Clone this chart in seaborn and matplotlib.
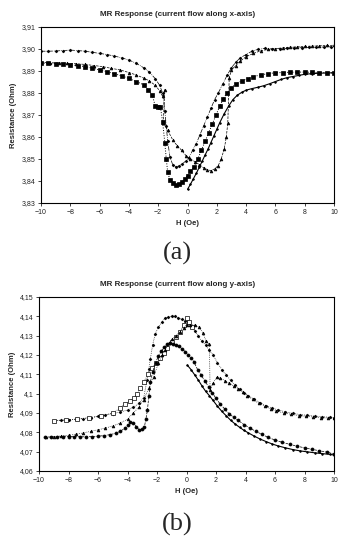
import numpy as np
import pandas as pd
import matplotlib
matplotlib.use("Agg")
import matplotlib.pyplot as plt
from matplotlib.ticker import FuncFormatter, MultipleLocator
import seaborn as sns

# ---- panel (a): current flow along x-axis ----
a_diam_h = [-10, -9.5, -9, -8.5, -8, -7.5, -7, -6.5, -6, -5.5, -5, -4.5, -4, -3.5, -3, -2.6, -2.2, -1.9,
            -1.7, -1.55, -1.45, -1.35, -1.2, -1.0, -0.8, -0.6, -0.35, -0.1, 0.1, 0.35, 0.6, 0.85, 1.1, 1.35,
            1.6, 1.85, 2.1, 2.4, 2.7, 3.0, 3.3, 3.6, 4.0, 4.4, 4.8, 5.3, 5.8, 6.3, 6.8, 7.3, 7.8, 8.3, 8.8,
            9.3, 9.8]
a_diam_r = [3.8990, 3.8990, 3.8991, 3.8993, 3.8995, 3.8993, 3.8990, 3.8985, 3.8980, 3.8975, 3.8968, 3.8960,
            3.8950, 3.8935, 3.8915, 3.8895, 3.8865, 3.8835, 3.8800, 3.8720, 3.8650, 3.8580, 3.8510, 3.8472,
            3.8465, 3.8468, 3.8478, 3.8492, 3.8505, 3.8540, 3.8570, 3.8610, 3.8650, 3.8690, 3.8730, 3.8770,
            3.8800, 3.8840, 3.8880, 3.8915, 3.8940, 3.8960, 3.8975, 3.8990, 3.8998, 3.9003, 3.9000, 3.9002,
            3.9003, 3.9005, 3.9006, 3.9007, 3.9008, 3.9009, 3.9010]

a_tri_h = [-10, -9.4, -8.8, -8.2, -7.6, -7.0, -6.4, -5.8, -5.2, -4.6, -4.0, -3.5, -3.0, -2.6, -2.2, -1.9,
           -1.7, -1.55, -1.65, -1.35, -1.0, -0.7, -0.4, -0.1, 0.2, 0.5, 0.8, 1.1, 1.35, 1.6, 1.85, 2.1, 2.3,
           2.5, 2.65, 2.75, 2.85, 3.0, 3.3, 3.6, 4.0, 4.5, 5.0, 5.5, 6.0, 6.5, 7.0, 7.5, 8.0, 8.5, 9.0, 9.5, 10.0]
a_tri_r = [3.8940, 3.8938, 3.8936, 3.8935, 3.8933, 3.8930, 3.8925, 3.8920, 3.8912, 3.8905, 3.8893, 3.8882,
           3.8868, 3.8855, 3.8835, 3.8810, 3.8785, 3.8815, 3.8665, 3.8630, 3.8586, 3.8560, 3.8540, 3.8515,
           3.8500, 3.8488, 3.8475, 3.8460, 3.8452, 3.8447, 3.8455, 3.8470, 3.8500, 3.8544, 3.8600, 3.8665,
           3.8870, 3.8905, 3.8925, 3.8945, 3.8965, 3.8980, 3.8992, 3.8998, 3.9002, 3.9005, 3.9008, 3.9010,
           3.9012, 3.9013, 3.9015, 3.9016, 3.9017]

a_sq_h = [-10, -9.5, -9, -8.5, -8, -7.5, -7, -6.5, -6, -5.5, -5, -4.5, -4, -3.5, -3, -2.7, -2.4, -2.2, -2.0,
          -1.85, -1.7, -1.55, -1.45, -1.35, -1.2, -1.0, -0.8, -0.6, -0.4, -0.2, 0.0, 0.2, 0.45, 0.7, 0.95,
          1.2, 1.45, 1.7, 1.95, 2.2, 2.45, 2.7, 3.0, 3.3, 3.7, 4.1, 4.5, 5.0, 5.5, 6.0, 6.5, 7.0, 7.5, 8.0,
          8.5, 9.0, 9.5, 10.0]
a_sq_r = [3.8935, 3.8935, 3.8933, 3.8930, 3.8928, 3.8925, 3.8920, 3.8913, 3.8905, 3.8897, 3.8888, 3.8878,
          3.8866, 3.8852, 3.8838, 3.8815, 3.8790, 3.8740, 3.8735, 3.8738, 3.8670, 3.8575, 3.8500, 3.8440,
          3.8405, 3.8390, 3.8380, 3.8385, 3.8395, 3.8410, 3.8425, 3.8445, 3.8465, 3.8500, 3.8540, 3.8580,
          3.8620, 3.8660, 3.8700, 3.8740, 3.8775, 3.8800, 3.8825, 3.8840, 3.8855, 3.8865, 3.8875, 3.8882,
          3.8888, 3.8892, 3.8893, 3.8894, 3.8895, 3.8895, 3.8894, 3.8893, 3.8892, 3.8891]

a_dot_h = [0.0, 0.2, 0.4, 0.6, 0.8, 1.0, 1.2, 1.4, 1.6, 1.8, 2.0, 2.2, 2.5, 2.8, 3.1, 3.4, 3.7, 4.0, 4.4,
           4.8, 5.2, 5.6, 6.0, 6.4, 6.8, 7.2, 7.6, 8.0, 8.5, 9.0, 9.5, 10.0]
a_dot_r = [3.8362, 3.8385, 3.8410, 3.8435, 3.8462, 3.8490, 3.8518, 3.8545, 3.8575, 3.8605, 3.8635, 3.8665,
           3.8705, 3.8740, 3.8770, 3.8790, 3.8803, 3.8813, 3.8820, 3.8826, 3.8833, 3.8842, 3.8852, 3.8862,
           3.8870, 3.8875, 3.8880, 3.8885, 3.8888, 3.8890, 3.8891, 3.8892]

# ---- panel (b): current flow along y-axis ----
b_diam_h = [-9.0, -8.5, -8.0, -7.5, -7.0, -6.5, -6.0, -5.5, -5.0, -4.5, -4.0, -3.6, -3.2, -2.9, -2.68, -2.55,
            -2.45, -2.3, -2.12, -1.9, -1.67, -1.45, -1.23, -1.0, -0.8, -0.55, -0.3, -0.1, 0.1, 0.3, 0.55, 0.8,
            1.05, 1.3, 1.55, 1.8, 2.1, 2.4, 2.7, 3.0, 3.3, 3.6, 3.9, 4.2, 4.6, 5.0, 5.4, 5.8, 6.2, 6.7, 7.2,
            7.7, 8.2, 8.7, 9.2, 9.7, 10.0]
b_diam_r = [4.0860, 4.0862, 4.0865, 4.0868, 4.0871, 4.0876, 4.0882, 4.0890, 4.0897, 4.0905, 4.0915, 4.0930,
            4.0950, 4.0980, 4.1070, 4.1130, 4.1180, 4.1250, 4.1310, 4.1345, 4.1370, 4.1390, 4.1397, 4.1402,
            4.1400, 4.1390, 4.1385, 4.1378, 4.1370, 4.1350, 4.1325, 4.1298, 4.1272, 4.1250, 4.1225, 4.1200,
            4.1160, 4.1125, 4.1095, 4.1070, 4.1045, 4.1025, 4.1005, 4.0990, 4.0970, 4.0952, 4.0938, 4.0926,
            4.0916, 4.0906, 4.0898, 4.0892, 4.0888, 4.0884, 4.0881, 4.0878, 4.0876]

b_sq_h = [-9.0, -8.2, -7.4, -6.6, -5.8, -5.0, -4.5, -4.15, -3.85, -3.57, -3.35, -3.12, -2.9, -2.6, -2.34,
          -2.05, -1.78, -1.55, -1.34, -1.0, -0.7, -0.45, -0.2, 0.0, 0.15, 0.35]
b_sq_r = [4.0861, 4.0864, 4.0869, 4.0876, 4.0885, 4.0900, 4.0925, 4.0948, 4.0962, 4.0977, 4.1000, 4.1028,
          4.1060, 4.1100, 4.1131, 4.1160, 4.1183, 4.1210, 4.1235, 4.1265, 4.1295, 4.1320, 4.1355, 4.1390,
          4.1370, 4.1345]

b_tri_h = [-9.5, -9.0, -8.5, -8.0, -7.5, -7.0, -6.5, -6.0, -5.5, -5.0, -4.5, -4.0, -3.6, -3.25, -2.9, -2.55,
           -2.23, -1.9, -1.65, -1.45, -1.2, -0.95, -0.7, -0.45, -0.2, 0.0, 0.25, 0.55, 0.85, 1.12, 1.34, 1.55,
           1.6, 1.8, 2.05, 2.3, 2.6, 2.9, 3.2, 3.5, 3.8, 4.1, 4.5, 4.9, 5.3, 5.7, 6.1, 6.6, 7.1, 7.6, 8.1,
           8.6, 9.1, 9.6, 10.0]
b_tri_r = [4.0775, 4.0778, 4.0781, 4.0785, 4.0790, 4.0797, 4.0805, 4.0813, 4.0822, 4.0833, 4.0848, 4.0868,
           4.0900, 4.0930, 4.0967, 4.1030, 4.1088, 4.1158, 4.1200, 4.1226, 4.1260, 4.1285, 4.1300, 4.1320,
           4.1340, 4.1355, 4.1357, 4.1355, 4.1345, 4.1312, 4.1270, 4.1255, 4.1020, 4.1055, 4.1085, 4.1080,
           4.1068, 4.1055, 4.1040, 4.1025, 4.1010, 4.0990, 4.0970, 4.0950, 4.0935, 4.0922, 4.0910, 4.0900,
           4.0893, 4.0887, 4.0883, 4.0879, 4.0876, 4.0874, 4.0872]

b_circ_h = [-9.6, -9.2, -8.8, -8.4, -8.0, -7.6, -7.2, -6.8, -6.4, -6.0, -5.6, -5.2, -4.8, -4.5, -4.2, -3.95,
            -3.8, -3.6, -3.4, -3.2, -3.0, -2.85, -2.75, -2.65, -2.55, -2.45, -2.3, -2.1, -1.9, -1.7, -1.5,
            -1.3, -1.1, -0.9, -0.7, -0.5, -0.3, -0.1, 0.1, 0.3, 0.5, 0.75, 1.0, 1.25, 1.5, 1.75, 2.0, 2.3,
            2.6, 2.9, 3.2, 3.5, 3.9, 4.3, 4.7, 5.1, 5.5, 6.0, 6.5, 7.0, 7.5, 8.0, 8.5, 9.0, 9.5, 10.0]
b_circ_r = [4.0775, 4.0776, 4.0777, 4.0778, 4.0778, 4.0778, 4.0777, 4.0777, 4.0778, 4.0780, 4.0783, 4.0788,
            4.0795, 4.0805, 4.0820, 4.0838, 4.0852, 4.0850, 4.0830, 4.0812, 4.0815, 4.0830, 4.0870, 4.0915,
            4.0990, 4.1060, 4.1110, 4.1160, 4.1195, 4.1220, 4.1240, 4.1255, 4.1260, 4.1258, 4.1252, 4.1244,
            4.1232, 4.1218, 4.1200, 4.1185, 4.1165, 4.1125, 4.1095, 4.1065, 4.1035, 4.1005, 4.0975, 4.0945,
            4.0920, 4.0895, 4.0878, 4.0862, 4.0840, 4.0822, 4.0805, 4.0790, 4.0775, 4.0760, 4.0748, 4.0738,
            4.0728, 4.0720, 4.0712, 4.0705, 4.0698, 4.0688]

b_dot_h = [0.05, 0.3, 0.55, 0.8, 1.05, 1.3, 1.55, 1.8, 2.1, 2.4, 2.7, 3.0, 3.3, 3.6, 3.9, 4.2, 4.6, 5.0,
           5.4, 5.8, 6.2, 6.7, 7.2, 7.7, 8.2, 8.7, 9.2, 9.7, 10.0]
b_dot_r = [4.1148, 4.1125, 4.1098, 4.1070, 4.1040, 4.1012, 4.0990, 4.0965, 4.0935, 4.0908, 4.0885, 4.0862,
           4.0843, 4.0826, 4.0810, 4.0797, 4.0780, 4.0765, 4.0752, 4.0740, 4.0730, 4.0720, 4.0711, 4.0704,
           4.0699, 4.0694, 4.0690, 4.0686, 4.0683]

x_ticks = [-10, -8, -6, -4, -2, 0, 2, 4, 6, 8, 10]

sns.set_theme(style="white")
plt.rcParams['font.family'] = ['Liberation Sans', 'DejaVu Sans']

fig = plt.figure(figsize=(3.4, 5.38), dpi=100)
ax_a = fig.add_axes([41 / 340, 1 - 203 / 538, 293 / 340, 176 / 538])
ax_b = fig.add_axes([39 / 340, 1 - 471 / 538, 295 / 340, 174 / 538])


def draw(ax, h, r, marker, ls, ms, lw=0.5, mfc='black'):
    df = pd.DataFrame({'H': h, 'R': r})
    sns.lineplot(data=df, x='H', y='R', ax=ax, sort=False, estimator=None, color='black',
                 marker=marker, markersize=ms, markerfacecolor=mfc, markeredgecolor='black',
                 markeredgewidth=0.5, linewidth=lw, linestyle=ls)


draw(ax_a, a_diam_h, a_diam_r, 'D', '-.', 1.4)
draw(ax_a, a_tri_h, a_tri_r, '^', '--', 2.0)
draw(ax_a, a_sq_h, a_sq_r, 's', ':', 2.2, lw=0.7)
draw(ax_a, a_dot_h, a_dot_r, 'o', '-', 1.2, lw=0.8)

draw(ax_b, b_diam_h, b_diam_r, 'D', ':', 1.4)
draw(ax_b, b_sq_h, b_sq_r, 's', ':', 2.2, mfc='white')
draw(ax_b, b_tri_h, b_tri_r, '^', ':', 2.0)
draw(ax_b, b_circ_h, b_circ_r, 'o', '--', 2.2)
draw(ax_b, b_dot_h, b_dot_r, 'o', '-', 1.2, lw=0.8)


def fmt_a(v, pos):
    return f"{v:.2f}".replace('.', ',')


def fmt_b(v, pos):
    s = f"{v:.2f}".rstrip('0').rstrip('.')
    return s.replace('.', ',')


for ax, ylim, fmt, title, tag, tag_y, title_y in [
        (ax_a, (3.83, 3.91), fmt_a, 'MR Response (current flow along x-axis)', '(a)', 253, 15),
        (ax_b, (4.06, 4.15), fmt_b, 'MR Response (current flow along y-axis)', '(b)', 524, 285)]:
    ax.set_xlim(-10, 10)
    ax.set_ylim(*ylim)
    ax.set_xticks(x_ticks)
    ax.yaxis.set_major_locator(MultipleLocator(0.01))
    ax.yaxis.set_major_formatter(FuncFormatter(fmt))
    ax.tick_params(axis='both', labelsize=5, colors='#222222', length=2, width=0.6,
                   direction='out', pad=2, left=True, bottom=True)
    for sp in ax.spines.values():
        sp.set_color('black')
        sp.set_linewidth(0.8)
    ax.set_xlabel('H (Oe)', fontsize=5.5, fontweight='bold', labelpad=3)
    ax.set_ylabel('Resistance (Ohm)', fontsize=5.5, fontweight='bold', labelpad=3)
    fig.text(178 / 340, 1 - title_y / 538, title, ha='center', va='center',
             fontsize=5.8, fontweight='bold')
    fig.text(177 / 340, 1 - tag_y / 538, tag, ha='center', va='center',
             fontsize=19, family=['Liberation Serif', 'DejaVu Serif'])

fig.savefig('out.png', dpi=100)
